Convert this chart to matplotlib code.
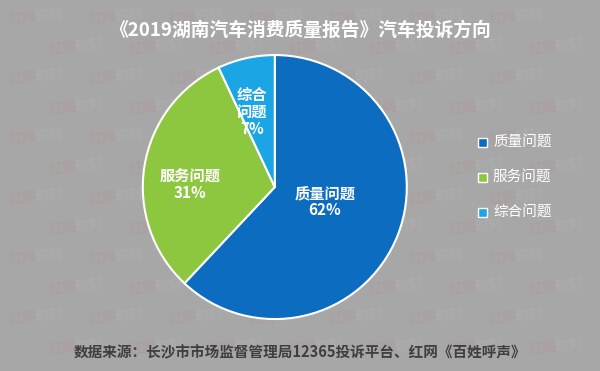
import matplotlib.pyplot as plt
from matplotlib.patches import Rectangle

plt.rcParams['font.family'] = ['Noto Sans CJK SC', 'DejaVu Sans']

# data
categories = ['质量问题', '服务问题', '综合问题']
shares = [62, 31, 7]
slice_labels = ['质量问题\n62%', '服务问题\n31%', '综合\n问题\n7%']
colors = ['#0b6cc0', '#8dc63f', '#1ba5e5']

title = '《2019湖南汽车消费质量报告》汽车投诉方向'
source = '数据来源：长沙市市场监督管理局12365投诉平台、红网《百姓呼声》'

bg = '#a7a7a7'
fig = plt.figure(figsize=(6, 3.71), dpi=100, facecolor=bg)

# faint watermark pattern, kept inside the frame
wm = fig.add_axes([0, 0, 1, 1])
wm.set_xlim(0, 600)
wm.set_ylim(371, 0)
wm.axis('off')
for row in range(12):
    y = 18 + row * 30
    off = 8 if row % 2 == 0 else 48
    for col in range(7):
        x = off + col * 80
        if x + 55 > 598:
            continue
        wm.text(x, y, '红网', color='#b88e8e', alpha=0.3, fontsize=10,
                fontweight='bold', va='center', rotation=6)
        wm.text(x + 27, y - 2, '时刻', color='#b8b8b8', alpha=0.45, fontsize=10,
                va='center', rotation=6)

# pie
ax = fig.add_axes([0.238, 0.140, 0.44, 0.7116])
wedges, _ = ax.pie(shares, colors=colors, startangle=90, counterclock=False,
                   wedgeprops=dict(edgecolor='white', linewidth=1.5))
ax.set_xlim(-1, 1)
ax.set_ylim(-1, 1)
ax.set_aspect('equal')

label_pos = [(0.38, -0.11), (-0.64, 0.02), (-0.17, 0.57)]
for (x, y), txt in zip(label_pos, slice_labels):
    ax.text(x, y, txt, color='white', fontsize=11, fontweight='bold',
            ha='center', va='center', linespacing=1.1)

# legend
leg_y = [142, 177, 212]
for c, name, y in zip(colors, categories, leg_y):
    wm.add_patch(Rectangle((478, y - 4.5), 9, 9, facecolor=c,
                           edgecolor='white', linewidth=1, zorder=5))
    wm.text(493, y, name, color='white', fontsize=10.5, va='center', ha='left',
            zorder=5)

# title and source
fig.text(0.5, 1 - 30 / 371, title, color='white', fontsize=13.5,
         fontweight='bold', ha='center', va='center')
fig.text(0.5, 1 - 352 / 371, source, color='#3f3f3f', fontsize=10.5,
         fontweight='bold', ha='center', va='center')

fig.savefig('out.png', dpi=100, facecolor=bg)
